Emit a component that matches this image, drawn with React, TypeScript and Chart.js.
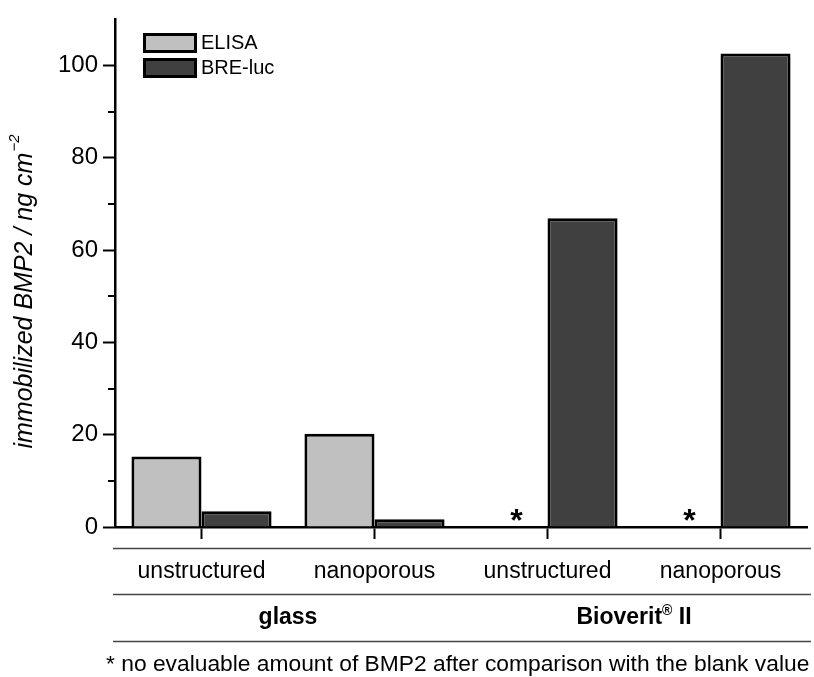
import React, { useEffect, useRef } from 'react';
import { Chart, registerables } from 'chart.js';

Chart.register(...registerables);

const categories = ['unstructured', 'nanoporous', 'unstructured', 'nanoporous'];
const groupLabels = ['glass', 'Bioverit® II'];
const groupStart = [0, 2];
const groupEnd = [1, 3];
const seriesNames = ['ELISA', 'BRE-luc'];
const elisaValues: (number | null)[] = [15.3, 20.2, null, null];
const breLucValues = [3.4, 1.7, 66.9, 102.6];
const notEvaluable = [false, false, true, true];
const yMin = 0;
const yMax = 110;
const yStep = 20;
const yMinorValues = [10, 30, 50, 70, 90];
const yTitleMain = 'immobilized BMP2 / ng cm';
const yTitleSup = '−2';
const footnote = '* no evaluable amount of BMP2 after comparison with the blank value';

const FONT = '"Liberation Sans", Arial, sans-serif';
const colors = ['#c0c0c0', '#404040'];

const extrasPlugin = {
  id: 'extras',
  afterDraw(chart: any) {
    const ctx = chart.ctx as CanvasRenderingContext2D;
    const xs = chart.scales.x;
    const ys = chart.scales.y;
    const area = chart.chartArea;
    ctx.save();

    // minor y ticks
    ctx.strokeStyle = '#000';
    ctx.lineWidth = 2;
    yMinorValues.forEach((v) => {
      const py = Math.round(ys.getPixelForValue(v));
      ctx.beginPath();
      ctx.moveTo(area.left - 7, py);
      ctx.lineTo(area.left, py);
      ctx.stroke();
    });

    // asterisks for non-evaluable values
    const meta0 = chart.getDatasetMeta(0);
    const y0 = ys.getPixelForValue(0);
    ctx.fillStyle = '#000';
    ctx.font = `bold 32px ${FONT}`;
    ctx.textAlign = 'center';
    ctx.textBaseline = 'alphabetic';
    notEvaluable.forEach((flag, i) => {
      if (!flag) return;
      const el = meta0.data[i];
      const x = el && isFinite(el.x) ? el.x : xs.getPixelForValue(i) - 35;
      ctx.fillText('*', x + 4, y0 + 4);
    });

    // separator lines
    const lineLeft = 113;
    const lineRight = 811;
    ctx.strokeStyle = '#444';
    ctx.lineWidth = 1.6;
    [21, 67, 114].forEach((dy) => {
      const py = Math.round(area.bottom + dy) + 0.5;
      ctx.beginPath();
      ctx.moveTo(lineLeft, py);
      ctx.lineTo(lineRight, py);
      ctx.stroke();
    });

    // group labels (® drawn as superscript)
    ctx.fillStyle = '#000';
    ctx.textBaseline = 'middle';
    ctx.textAlign = 'left';
    groupLabels.forEach((g, k) => {
      const cx = (xs.getPixelForValue(groupStart[k]) + xs.getPixelForValue(groupEnd[k])) / 2;
      const cy = area.bottom + 91;
      const parts = g.split('®');
      const big = `bold 23px ${FONT}`;
      const small = `bold 14px ${FONT}`;
      ctx.font = big;
      const wa = ctx.measureText(parts[0]).width;
      const wc = parts.length > 1 ? ctx.measureText(parts[1]).width : 0;
      ctx.font = small;
      const wb = parts.length > 1 ? ctx.measureText('®').width : 0;
      let x = cx - (wa + wb + wc) / 2;
      ctx.font = big;
      ctx.fillText(parts[0], x, cy);
      x += wa;
      if (parts.length > 1) {
        ctx.font = small;
        ctx.fillText('®', x, cy - 7);
        x += wb;
        ctx.font = big;
        ctx.fillText(parts[1], x, cy);
      }
    });

    // footnote
    ctx.font = `22.8px ${FONT}`;
    ctx.textAlign = 'left';
    ctx.fillText(footnote, 106, area.bottom + 138);

    // y title
    ctx.save();
    ctx.translate(25, 292);
    ctx.rotate(-Math.PI / 2);
    ctx.font = `italic 25px ${FONT}`;
    const w1 = ctx.measureText(yTitleMain).width;
    ctx.font = `italic 15px ${FONT}`;
    const w2 = ctx.measureText(yTitleSup).width;
    const start = -(w1 + w2) / 2;
    ctx.textAlign = 'left';
    ctx.textBaseline = 'middle';
    ctx.font = `italic 25px ${FONT}`;
    ctx.fillText(yTitleMain, start, 0);
    ctx.font = `italic 15px ${FONT}`;
    ctx.fillText(yTitleSup, start + w1 + 1, -10);
    ctx.restore();

    // legend
    const lx = 143;
    const lyTops = [33, 58];
    chart.data.datasets.forEach((ds: any, i: number) => {
      const top = lyTops[i];
      ctx.fillStyle = ds.backgroundColor;
      ctx.fillRect(lx, top, 54, 20);
      ctx.strokeStyle = '#000';
      ctx.lineWidth = 3;
      ctx.strokeRect(lx + 1.5, top + 1.5, 51, 17);
      ctx.fillStyle = '#000';
      ctx.font = `20px ${FONT}`;
      ctx.textAlign = 'left';
      ctx.textBaseline = 'middle';
      ctx.fillText(ds.label, lx + 58, top + 10);
    });

    ctx.restore();
  },
};

export default function App() {
  const canvasRef = useRef<HTMLCanvasElement | null>(null);

  useEffect(() => {
    document.body.style.margin = '0';
    const canvas = canvasRef.current;
    if (!canvas) return;
    const chart = new Chart(canvas, {
      type: 'bar',
      data: {
        labels: categories,
        datasets: [
          {
            label: seriesNames[0],
            data: elisaValues,
            backgroundColor: colors[0],
            borderColor: '#000',
            borderWidth: 3,
            barPercentage: 1,
            categoryPercentage: 0.81,
          },
          {
            label: seriesNames[1],
            data: breLucValues,
            backgroundColor: colors[1],
            borderColor: '#000',
            borderWidth: 3,
            barPercentage: 1,
            categoryPercentage: 0.81,
          },
        ],
      },
      options: {
        responsive: false,
        animation: false,
        devicePixelRatio: 1,
        layout: { padding: { left: 0, right: 7, top: 15, bottom: 0 } },
        plugins: {
          legend: { display: false },
          tooltip: { enabled: false },
          title: { display: false },
        },
        scales: {
          x: {
            grid: {
              offset: false,
              drawOnChartArea: false,
              drawTicks: true,
              tickLength: 12,
              tickColor: '#000',
              tickWidth: 2,
            },
            border: { display: true, color: '#000', width: 2.5 },
            ticks: {
              color: '#000',
              font: { family: FONT, size: 23 },
              padding: 19,
              maxRotation: 0,
              autoSkip: false,
            },
            afterFit: (s: any) => {
              s.height = 150;
            },
          },
          y: {
            min: yMin,
            max: yMax,
            grid: {
              drawOnChartArea: false,
              drawTicks: true,
              tickLength: 12,
              tickColor: '#000',
              tickWidth: 2,
            },
            border: { display: true, color: '#000', width: 2.5 },
            ticks: {
              stepSize: yStep,
              includeBounds: false,
              color: '#000',
              font: { family: FONT, size: 24 },
              padding: 5,
            },
            afterFit: (s: any) => {
              s.width = 115;
            },
          },
        },
      },
      plugins: [extrasPlugin],
    } as any);
    return () => chart.destroy();
  }, []);

  return (
    <div style={{ width: 814, height: 677 }}>
      <canvas ref={canvasRef} width={814} height={677} style={{ display: 'block' }} />
    </div>
  );
}
